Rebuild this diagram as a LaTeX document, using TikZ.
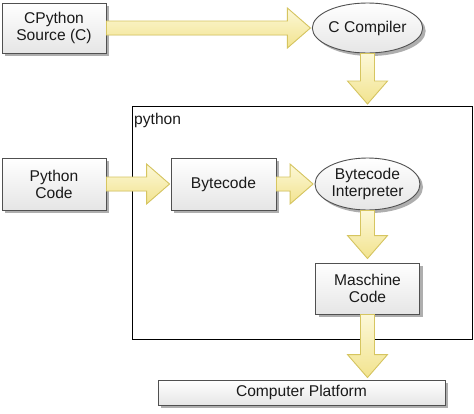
\documentclass[tikz,border=0pt]{standalone}
\usepackage{fontspec}
\setmainfont{Liberation Sans}
\usetikzlibrary{calc,shadows,shapes.geometric}
\definecolor{txt}{HTML}{1A1A1A}
\definecolor{boxline}{HTML}{505050}
\definecolor{arrfillA}{HTML}{FCF8D8}
\definecolor{arrfillB}{HTML}{F2E38E}
\definecolor{arrline}{HTML}{D6C560}
\definecolor{shad}{HTML}{9A9A9A}
\tikzset{
  base/.style={font=\fontsize{15.6}{17}\selectfont, text=txt, align=center,
    draw=boxline, line width=0.9pt, top color=white, bottom color=black!10,
    drop shadow={shadow xshift=3pt, shadow yshift=-3pt, fill=shad, opacity=0.8},
    inner sep=0pt},
  boxnode/.style={base, rectangle},
  ellnode/.style={base, ellipse},
  fatarrow/.style={draw=arrline, line width=0.9pt, top color=arrfillA, bottom color=arrfillB,
    line join=miter},
  arrshadow/.style={fill=shad, opacity=0.7},
}
% horizontal fat arrow from point 1 to point 2
\newcommand{\harrow}[2]{%
  \foreach \st/\sx/\sy in {arrshadow/3pt/-3pt, fatarrow/0pt/0pt}{
  \path[\st, shift={(\sx,\sy)}] let \p1=(#1), \p2=(#2) in
    (\x1,\y1+7pt) -- (\x2-23pt,\y1+7pt) -- (\x2-23pt,\y1+20pt) -- (\x2,\y1)
    -- (\x2-23pt,\y1-20pt) -- (\x2-23pt,\y1-7pt) -- (\x1,\y1-7pt) -- cycle;}}
% vertical (downward) fat arrow
\newcommand{\varrow}[2]{%
  \foreach \st/\sx/\sy in {arrshadow/3pt/-3pt, fatarrow/0pt/0pt}{
  \path[\st, shift={(\sx,\sy)}] let \p1=(#1), \p2=(#2) in
    (\x1-7pt,\y1) -- (\x1-7pt,\y2+23pt) -- (\x1-20pt,\y2+23pt) -- (\x1,\y2)
    -- (\x1+20pt,\y2+23pt) -- (\x1+7pt,\y2+23pt) -- (\x1+7pt,\y1) -- cycle;}}
\begin{document}
\begin{tikzpicture}[x=1pt,y=-1pt]
\useasboundingbox (0,0) rectangle (474,413);
\fill[white] (0,0) rectangle (474,413);
% python container
\node[draw=black, line width=1.3pt, rectangle, minimum width=340pt, minimum height=233pt,
  anchor=north west, inner sep=0pt] (py) at (132,106) {};
\node[font=\fontsize{15.6}{17}\selectfont, text=txt, anchor=north west, inner sep=0pt] (pylabel) at (134,113) {python};
% nodes
\node[boxnode, minimum width=104pt, minimum height=50pt] (src) at (54,28) {CPython\\Source (C)};
\node[ellnode, minimum width=105pt, minimum height=50pt] (cc) at (367.5,28) {C Compiler};
\node[boxnode, minimum width=104pt, minimum height=52pt] (pc) at (54,184) {Python\\Code};
\node[boxnode, minimum width=105pt, minimum height=52pt] (bc) at (223.5,184) {Bytecode};
\node[ellnode, minimum width=105pt, minimum height=52pt] (bi) at (367.5,184) {Bytecode\\Interpreter};
\node[boxnode, minimum width=104pt, minimum height=51pt] (mc) at (367.5,288.5) {Maschine\\Code};
\node[boxnode, minimum width=287pt, minimum height=25pt] (cp) at (301.5,392.5) {Computer Platform};
\coordinate (pytop) at (367.5,104);
% arrows
\harrow{src.east}{$(cc.west)+(-1.5,0)$}
\varrow{cc.south}{pytop}
\harrow{pc.east}{$(bc.west)+(-1,0)$}
\harrow{bc.east}{$(bi.west)+(-1.5,0)$}
\varrow{bi.south}{$(mc.north)+(0,-4)$}
\varrow{mc.south}{$(cp.north)+(0,-2)$}
\end{tikzpicture}
\end{document}
